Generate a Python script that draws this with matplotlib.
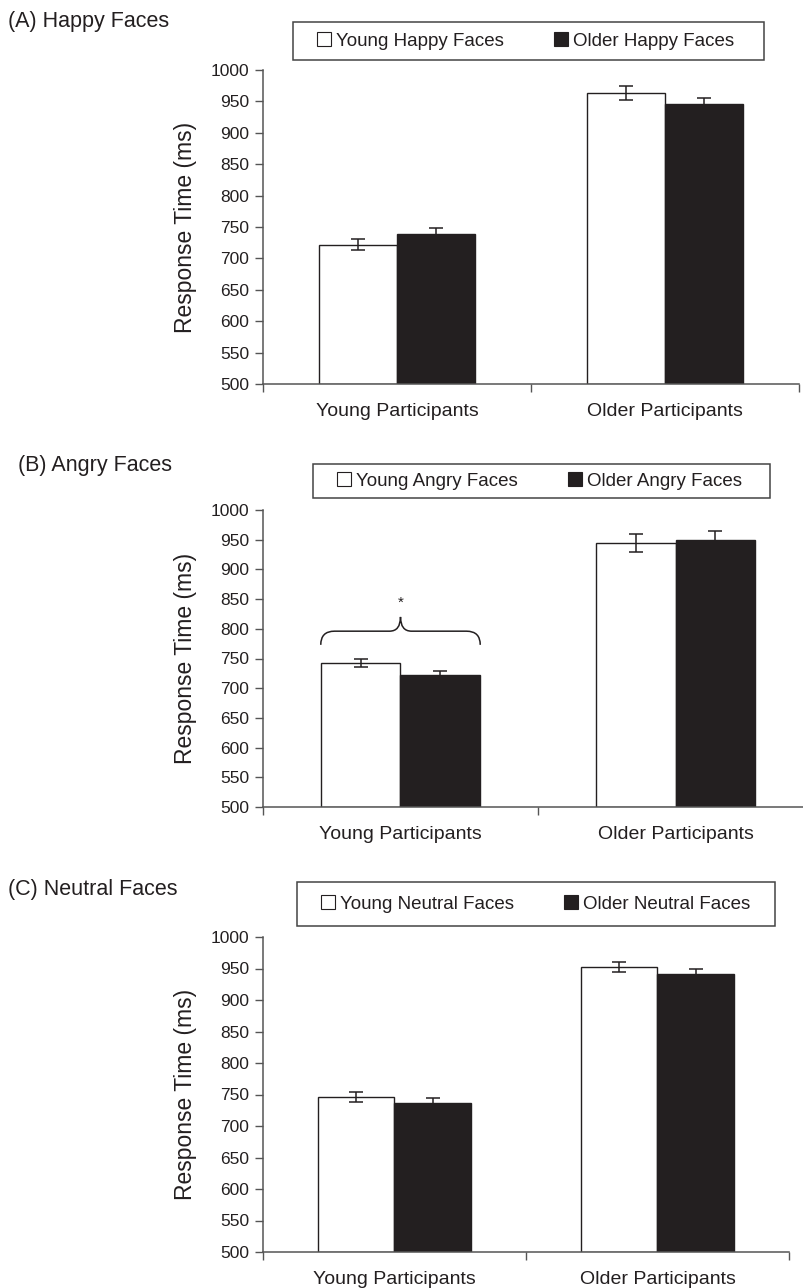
import matplotlib
matplotlib.use("Agg")
import matplotlib.pyplot as plt
from matplotlib.patches import Patch, Rectangle
from matplotlib.path import Path
from matplotlib.patches import PathPatch

plt.rcParams['font.family'] = ['Liberation Sans', 'DejaVu Sans']

INK = '#231f20'

groups = ['Young Participants', 'Older Participants']

happy_young_faces = [722, 963]
happy_young_err = [9, 11]
happy_older_faces = [739, 946]
happy_older_err = [9, 9]

angry_young_faces = [743, 944]
angry_young_err = [6.5, 15]
angry_older_faces = [722, 950]
angry_older_err = [7, 15]

neutral_young_faces = [746, 952]
neutral_young_err = [8, 8]
neutral_older_faces = [736, 941]
neutral_older_err = [9, 9]

y_ticks = list(range(500, 1001, 50))

W, H = 804, 1288


def px_rect(x0, y0, x1, y1):
    # pixel box (top-left origin) -> figure fraction [left, bottom, width, height]
    return [x0 / W, 1 - y1 / H, (x1 - x0) / W, (y1 - y0) / H]


def draw_panel(fig, rect, title, title_xy, legend_box, labels, young, young_err, older, older_err):
    ax = fig.add_axes(rect)
    width = 0.29
    xs = [0.5 + i for i in range(len(groups))]
    xw = [x - width / 2 for x in xs]
    xb = [x + width / 2 for x in xs]
    ax.bar(xw, [v - 500 for v in young], width, bottom=500, color='white',
           edgecolor=INK, linewidth=1.0, zorder=2)
    ax.bar(xb, [v - 500 for v in older], width, bottom=500, color=INK,
           edgecolor=INK, linewidth=1.0, zorder=2)
    ax.errorbar(xw, young, yerr=young_err, fmt='none', ecolor=INK,
                elinewidth=1.1, capsize=5, capthick=1.1, zorder=3)
    ax.errorbar(xb, older, yerr=older_err, fmt='none', ecolor=INK,
                elinewidth=1.1, capsize=5, capthick=1.1, zorder=3)

    ax.set_xlim(0, len(groups))
    ax.set_ylim(500, 1000)
    ax.set_yticks(y_ticks)
    ax.set_xticks(range(len(groups) + 1))
    ax.set_xticklabels([])
    ax.set_xticks(xs, minor=True)
    ax.set_xticklabels(groups, minor=True, fontsize=14, color=INK)
    ax.tick_params(axis='x', which='minor', length=0, pad=14)
    ax.tick_params(axis='x', which='major', length=6, width=1, color='#555555', direction='out')
    ax.tick_params(axis='y', length=6, width=1, color='#555555', labelsize=12.5,
                   labelcolor=INK, pad=4)
    for s in ['top', 'right']:
        ax.spines[s].set_visible(False)
    for s in ['left', 'bottom']:
        ax.spines[s].set_color('#555555')
        ax.spines[s].set_linewidth(1.1)
    ax.set_ylabel('Response Time (ms)', fontsize=16.5, color=INK, labelpad=10)

    fig.text(title_xy[0] / W, 1 - title_xy[1] / H, title, fontsize=15.5,
             color=INK, va='center', ha='left')

    x0, y0, x1, y1 = legend_box
    fig.add_artist(Rectangle((x0 / W, 1 - y1 / H), (x1 - x0) / W, (y1 - y0) / H,
                             transform=fig.transFigure, facecolor='white',
                             edgecolor='#444444', linewidth=1.1))
    handles = [Patch(facecolor='white', edgecolor=INK, linewidth=0.8),
               Patch(facecolor=INK, edgecolor=INK, linewidth=0.8)]
    fig.legend(handles, labels, loc='center left',
               bbox_to_anchor=((x0 + 24) / W, 1 - (y0 + y1) / 2 / H),
               ncol=2, frameon=False, fontsize=13.5, handlelength=0.75,
               handleheight=0.75, handletextpad=0.25, columnspacing=2.7,
               borderpad=0, borderaxespad=0, labelcolor=INK)
    return ax


fig = plt.figure(figsize=(W / 100, H / 100), dpi=100)

draw_panel(fig, px_rect(263, 70, 799, 384), '(A) Happy Faces', (8, 22),
           (293, 22, 764, 60), ['Young Happy Faces', 'Older Happy Faces'],
           happy_young_faces, happy_young_err, happy_older_faces, happy_older_err)

ax_b = draw_panel(fig, px_rect(263, 510, 813, 807), '(B) Angry Faces', (18, 465),
                  (313, 464, 770, 498), ['Young Angry Faces', 'Older Angry Faces'],
                  angry_young_faces, angry_young_err, angry_older_faces, angry_older_err)

draw_panel(fig, px_rect(263, 937, 789, 1252), '(C) Neutral Faces', (8, 890),
           (297, 882, 775, 926), ['Young Neutral Faces', 'Older Neutral Faces'],
           neutral_young_faces, neutral_young_err, neutral_older_faces, neutral_older_err)

# significance brace over young participants in panel B
bl, br = 0.21, 0.79
bm = (bl + br) / 2
y_end, y_flat, y_tip = 773, 796, 820
verts = [(bl, y_end), (bl, y_flat), (bl + 0.05, y_flat),
         (bm - 0.04, y_flat),
         (bm, y_flat), (bm, y_tip),
         (bm, y_flat), (bm + 0.04, y_flat),
         (br - 0.05, y_flat),
         (br, y_flat), (br, y_end)]
codes = [Path.MOVETO, Path.CURVE3, Path.CURVE3,
         Path.LINETO,
         Path.CURVE3, Path.CURVE3,
         Path.CURVE3, Path.CURVE3,
         Path.LINETO,
         Path.CURVE3, Path.CURVE3]
ax_b.add_patch(PathPatch(Path(verts, codes), facecolor='none', edgecolor=INK,
                         linewidth=1.1, zorder=3))
ax_b.text(bm, 843, '*', ha='center', va='center', fontsize=11, color=INK)

fig.savefig('out.png', dpi=100)
